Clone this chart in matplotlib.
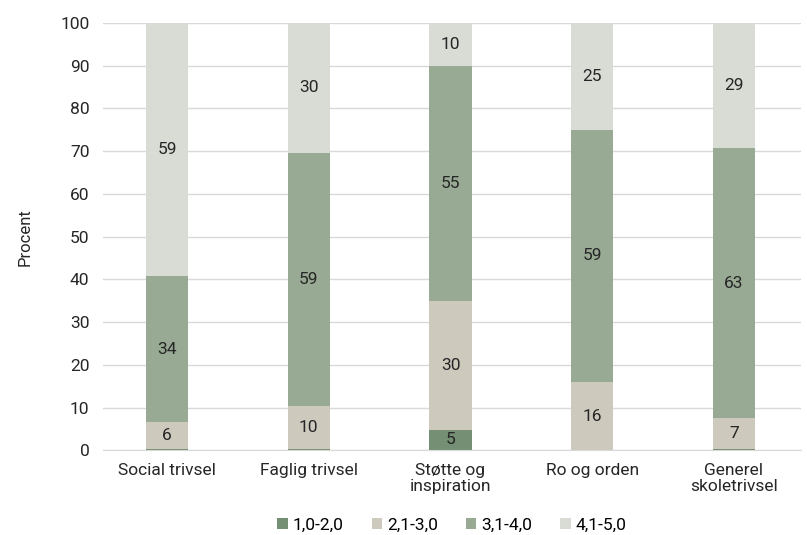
import numpy as np
import matplotlib.pyplot as plt
import matplotlib as mpl

mpl.rcParams.update({"font.family": ["Roboto", "DejaVu Sans"], "font.size": 12})

categories = ["Social trivsel", "Faglig trivsel", "Støtte og\ninspiration",
              "Ro og orden", "Generel\nskoletrivsel"]
series = ["1,0-2,0", "2,1-3,0", "3,1-4,0", "4,1-5,0"]
v_10_20 = [0.4, 0.3, 4.9, 0.0, 0.3]
v_21_30 = [6.3, 10.2, 30.1, 16.0, 7.2]
v_31_40 = [34.0, 59.2, 55.0, 59.0, 63.2]
v_41_50 = [59.3, 30.3, 10.0, 25.0, 29.3]
colors = ["#748f74", "#cdc9bd", "#98aa94", "#d9dcd5"]

fig, ax = plt.subplots(figsize=(8.07, 5.35), dpi=100)
fig.subplots_adjust(left=0.128, right=0.992, top=0.957, bottom=0.158)

x = np.arange(len(categories))
bottom = np.zeros(len(categories))
for name, vals, col in zip(series, [v_10_20, v_21_30, v_31_40, v_41_50], colors):
    vals = np.array(vals)
    ax.bar(x, vals, 0.3, bottom=bottom, color=col, label=name, zorder=2)
    for xi, b, v in zip(x, bottom, vals):
        if v >= 1:
            ax.text(xi, b + v / 2, f"{v:.0f}", ha="center", va="center",
                    fontsize=12.5, color="#262626", zorder=3)
    bottom += vals

ax.set_ylim(0, 100)
ax.set_xlim(-0.45, 4.47)
ax.set_yticks(range(0, 101, 10))
ax.set_xticks(x)
ax.set_xticklabels(categories, linespacing=1.05)
ax.yaxis.grid(True, color="#d9d9d9", lw=1, zorder=0)
ax.tick_params(length=0, labelsize=12.5, colors="#262626")
ax.tick_params(axis="y", pad=10)
ax.tick_params(axis="x", pad=9)
for s in ["top", "right", "left"]:
    ax.spines[s].set_visible(False)
ax.spines["bottom"].set_color("#d9d9d9")
ax.set_ylabel("Procent", fontsize=12, color="#262626", labelpad=20)
ax.legend(loc="upper center", bbox_to_anchor=(0.5, -0.12), ncol=4,
          frameon=False, handlelength=0.6, handleheight=0.6,
          handletextpad=0.3, columnspacing=1.6, fontsize=12.5)

fig.savefig("out.png", dpi=100, facecolor="white")
